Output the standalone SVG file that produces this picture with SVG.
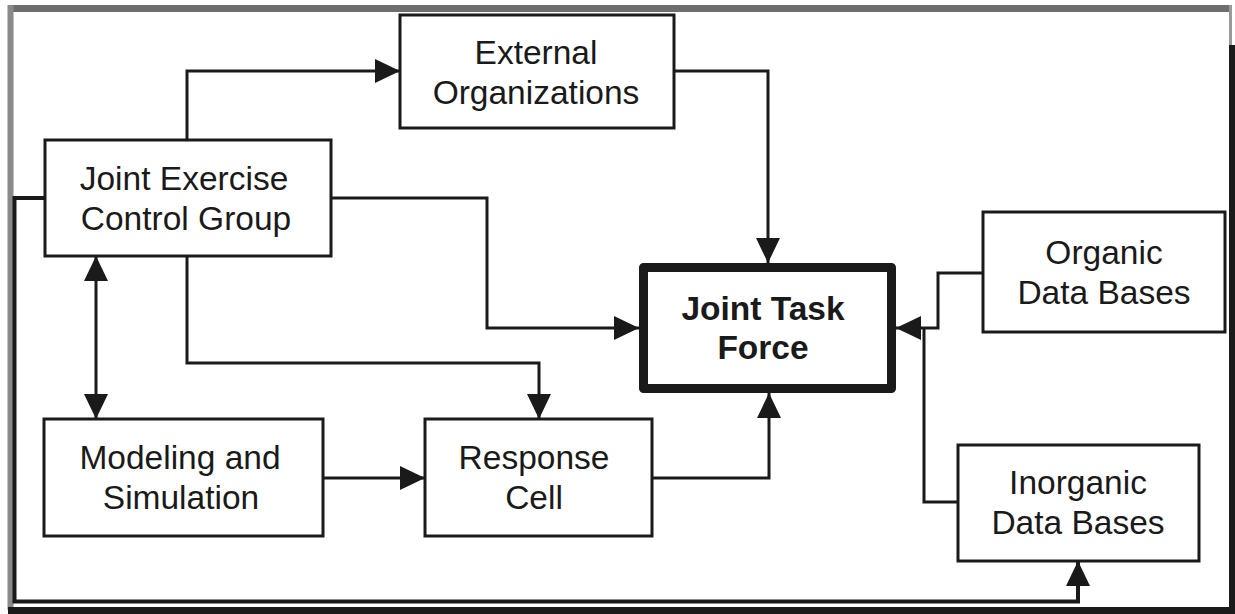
<svg xmlns="http://www.w3.org/2000/svg" width="1235" height="614" viewBox="0 0 1235 614">
<defs>
<marker id="arr" markerUnits="userSpaceOnUse" markerWidth="25" markerHeight="24" refX="25" refY="12" orient="auto-start-reverse" viewBox="0 0 25 24">
<path d="M0,0 L25,12 L0,24 z" fill="#1a1a1a"/>
</marker>
<style>
.box{fill:#fff;stroke:#1a1a1a;stroke-width:3}
.main{fill:#fff;stroke:#1a1a1a;stroke-width:9;stroke-linejoin:round}
.lbl{font-family:"Liberation Sans",Arial,sans-serif;font-size:33.5px;fill:#1a1a1a;text-anchor:middle}
.bold{font-weight:bold}
.c{fill:none;stroke:#1a1a1a;stroke-width:3}
.a{marker-end:url(#arr)}
</style>
</defs>
<rect x="0" y="0" width="1235" height="614" fill="#fff"/>
<g id="frame">
<path d="M8,8.5 H1232" stroke="#6e6e6e" stroke-width="7" fill="none"/>
<path d="M10.5,5 V610" stroke="#8a8a8a" stroke-width="6" fill="none"/>
<path d="M1230.5,5 V48" stroke="#9a9a9a" stroke-width="3" fill="none"/>
<path d="M1232,45 V614" stroke="#1a1a1a" stroke-width="6" fill="none"/>
<path d="M8,610.5 H1235" stroke="#1a1a1a" stroke-width="7" fill="none"/>
</g>
<g id="connectors">
<path class="c a" d="M187,140 V71 H400"/>
<path class="c a" d="M674,71 H768 V263"/>
<path class="c a" d="M331,198 H487 V328 H639"/>
<path class="c a" d="M187,256 V363 H539 V419"/>
<path class="c a" d="M96,256 V419" marker-start="url(#arr)"/>
<path class="c a" d="M323,478 H425"/>
<path class="c a" d="M652,478 H769 V393"/>
<path class="c a" d="M983,273 H938 V328 H896"/>
<path class="c" d="M958,502 H924 V328"/>
<path class="c a" d="M45,198 H14.5 V601.5 H1078 V561" style="stroke-width:4"/>
</g>
<g id="jecg">
<rect class="box" x="45" y="140" width="286" height="116"/>
<text class="lbl" x="184" y="190">Joint Exercise</text>
<text class="lbl" x="186" y="230">Control Group</text>
</g>
<g id="external">
<rect class="box" x="400" y="15" width="274" height="113"/>
<text class="lbl" x="536" y="64">External</text>
<text class="lbl" x="536" y="104">Organizations</text>
</g>
<g id="jtf">
<rect class="main" x="643.5" y="267.5" width="248" height="121"/>
<text class="lbl bold" x="763" y="320">Joint Task</text>
<text class="lbl bold" x="763" y="359">Force</text>
</g>
<g id="organic">
<rect class="box" x="983" y="212" width="242" height="120"/>
<text class="lbl" x="1104" y="264">Organic</text>
<text class="lbl" x="1104" y="304">Data Bases</text>
</g>
<g id="inorganic">
<rect class="box" x="958" y="445" width="241" height="116"/>
<text class="lbl" x="1078" y="494">Inorganic</text>
<text class="lbl" x="1078" y="534">Data Bases</text>
</g>
<g id="modeling">
<rect class="box" x="44" y="419" width="279" height="117"/>
<text class="lbl" x="180" y="469">Modeling and</text>
<text class="lbl" x="181" y="509">Simulation</text>
</g>
<g id="response">
<rect class="box" x="425" y="419" width="227" height="117"/>
<text class="lbl" x="534" y="469">Response</text>
<text class="lbl" x="534" y="509">Cell</text>
</g>
</svg>
